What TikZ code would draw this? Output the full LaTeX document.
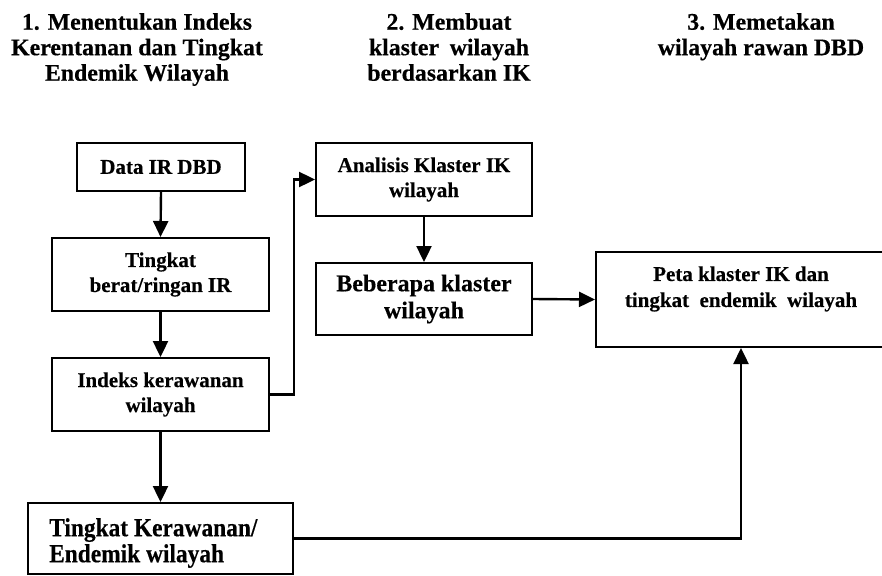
\documentclass[tikz,border=0pt]{standalone}
\usepackage{fontspec}
\setmainfont{Liberation Serif}[BoldFeatures={FakeBold=0.4}]
\newfontfamily\condfont{Liberation Serif}[FakeStretch=0.9, BoldFeatures={FakeStretch=0.9, FakeBold=0.4}]
\usetikzlibrary{arrows.meta}
\begin{document}
\begin{tikzpicture}[x=1pt,y=-1pt,
  box/.style={draw, line width=2pt, inner sep=0pt, align=center,
    font=\bfseries\fontsize{21}{25}\selectfont},
  txt/.style={inner sep=0pt, align=center, font=\bfseries\fontsize{21}{26}\selectfont},
  head/.style={anchor=north, align=center, inner sep=0pt,
    font=\bfseries\fontsize{23.8}{25.5}\selectfont},
  arr/.style={line width=2.4pt, -{Triangle[length=16pt,width=15pt]}}]
\useasboundingbox (0,0) rectangle (882,575);
\clip (0,0) rectangle (882,575);

% headings
\node[head] (h1) at (137,13) {1. Menentukan Indeks\\Kerentanan dan Tingkat\\Endemik Wilayah};
\node[head] (h2) at (449,13) {2. Membuat\\klaster\hspace{0.2em} wilayah\\berdasarkan IK};
\node[head] (h3) at (761,13) {3. Memetakan\\wilayah rawan DBD};

% boxes
\node[box, minimum width=168pt, minimum height=48pt] (data) at (161,167) {Data IR DBD};
\node[box, minimum width=217pt, minimum height=73pt] (tingkat) at (160.5,274.5) {Tingkat\\berat/ringan IR};
\node[box, minimum width=217pt, minimum height=73pt] (indeks) at (160.5,394.5) {Indeks kerawanan\\wilayah};
\node[box, minimum width=216pt, minimum height=73pt] (analisis) at (424,179.5) {Analisis Klaster IK\\wilayah};
\node[box, minimum width=216pt, minimum height=72pt, font=\bfseries\fontsize{24}{27}\selectfont] (beberapa) at (424,299) {Beberapa klaster\\wilayah};
\node[box, minimum width=290pt, minimum height=95pt] (peta) at (741,299.5) {};
\node[txt] (petaT) at (741,289) {Peta klaster IK dan\\tingkat\hspace{0.25em} endemik\hspace{0.25em} wilayah};
\node[box, minimum width=265pt, minimum height=71pt] (tk) at (160.5,538.5) {};
\node[inner sep=0pt, align=left, anchor=west, font=\condfont\bfseries\fontsize{26}{26}\selectfont] (tkT) at (49,543) {Tingkat Kerawanan/\\Endemik wilayah};

% connectors
\draw[arr] (data.south) -- (tingkat.north);
\draw[arr] (tingkat.south) -- (indeks.north);
\draw[arr] (indeks.south) -- (tk.north);
\draw[arr] (indeks.east) -- ++(24,0) |- (analisis.west);
\draw[arr] (analisis.south) -- (beberapa.north);
\draw[arr] (beberapa.east) -- (peta.west);
\draw[arr] (tk.east) -| (peta.south);
\end{tikzpicture}
\end{document}
